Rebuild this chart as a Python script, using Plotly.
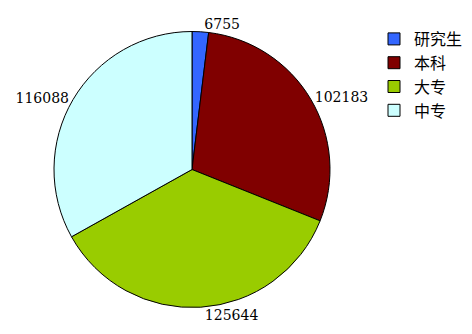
import plotly.graph_objects as go

labels = ["研究生", "本科", "大专", "中专"]
values = [6755, 102183, 125644, 116088]
colors = ["#3366FF", "#800000", "#99CC00", "#CCFFFF"]

fig = go.Figure(go.Pie(
    labels=labels,
    values=values,
    sort=False,
    direction="clockwise",
    rotation=0,
    marker=dict(colors=colors, line=dict(color="#000000", width=1)),
    texttemplate="%{value:.0f}",
    textposition="outside",
    textfont=dict(family="DejaVu Serif", size=14, color="#000000"),
    domain=dict(x=[54/472, 330/472], y=[26/334, 303/334]),
    showlegend=True,
))

fig.update_layout(
    width=472, height=334,
    margin=dict(l=0, r=0, t=0, b=0),
    paper_bgcolor="white",
    plot_bgcolor="white",
    legend=dict(
        x=374/472, y=1 - 22/334, xanchor="left", yanchor="top",
        font=dict(family="Noto Sans CJK SC", size=16, color="#000000"),
        itemwidth=30, tracegroupgap=0,
    ),
)

fig.write_html("out.html")
